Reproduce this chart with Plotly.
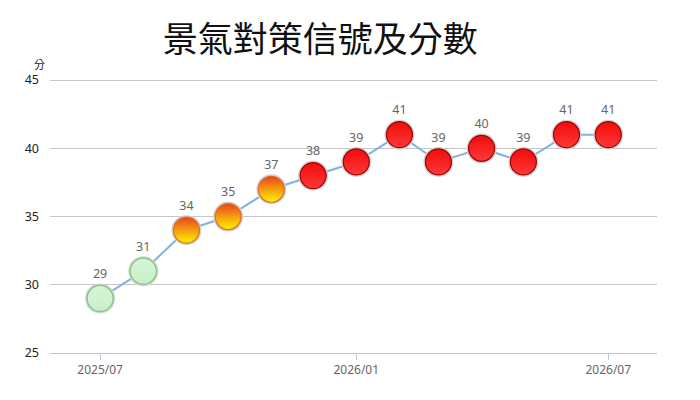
import plotly.graph_objects as go

# 景氣對策信號 monthly scores
months = ["2025-07-01", "2025-08-01", "2025-09-01", "2025-10-01", "2025-11-01",
          "2025-12-01", "2026-01-01", "2026-02-01", "2026-03-01", "2026-04-01",
          "2026-05-01", "2026-06-01", "2026-07-01"]
scores = [29, 31, 34, 35, 37, 38, 39, 41, 39, 40, 39, 41, 41]
signals = ["green", "green", "yellow-red", "yellow-red", "yellow-red",
           "red", "red", "red", "red", "red", "red", "red", "red"]

# signal light styles: (top colour, bottom colour, border)
styles = {
    "green": ("#d6f5d6", "#c9f0c9", "#80c480"),
    "yellow-red": ("#e8441c", "#fff500", "#e06a2a"),
    "red": ("#f00c0c", "#ff3838", "#a00000"),
}

fig = go.Figure()

# connecting line
fig.add_trace(go.Scatter(
    x=months, y=scores,
    mode="lines",
    line=dict(color="#7fb2e5", width=2),
    hoverinfo="skip",
    showlegend=False
))

# gray halo under each light
fig.add_trace(go.Scatter(
    x=months, y=scores,
    mode="markers",
    marker=dict(size=30, color="#d2d2d2", line=dict(width=0)),
    hoverinfo="skip",
    showlegend=False
))

# one trace per signal colour so each gets its own gradient
for sig in ["green", "yellow-red", "red"]:
    xs = [m for m, s in zip(months, signals) if s == sig]
    ys = [v for v, s in zip(scores, signals) if s == sig]
    top, bottom, border = styles[sig]
    fig.add_trace(go.Scatter(
        x=xs, y=ys,
        mode="markers+text",
        text=[str(v) for v in ys],
        textposition="top center",
        textfont=dict(family="Noto Sans", size=12.5, color="#666666"),
        marker=dict(size=26, color=top,
                    gradient=dict(type="vertical", color=bottom),
                    line=dict(color=border, width=1.2)),
        name=sig,
        showlegend=False
    ))

fig.update_layout(
    width=700, height=400,
    margin=dict(l=42, r=51, t=68, b=55),
    paper_bgcolor="white",
    plot_bgcolor="white",
    font=dict(family="Noto Sans CJK TC", color="#333333"),
    title=dict(
        text="景氣對策信號及分數",
        x=0.446, xanchor="center",
        y=0.92, yanchor="middle",
        font=dict(family="Noto Sans CJK TC", size=35, color="#111111")
    ),
    xaxis=dict(
        type="date",
        range=["2025-05-26", "2026-08-05"],
        tickvals=["2025-07-01", "2026-01-01", "2026-07-01"],
        ticktext=["2025/07", "2026/01", "2026/07"],
        showgrid=False,
        showline=True, linecolor="#b8c8dc", linewidth=1,
        ticks="outside", ticklen=6, tickcolor="#b8c8dc",
        tickfont=dict(family="Noto Sans", size=12, color="#666666"),
        zeroline=False, automargin=False
    ),
    yaxis=dict(
        range=[25, 45.3],
        tickvals=[25, 30, 35, 40, 45],
        showgrid=True, gridcolor="#c6c6c6", gridwidth=1,
        showline=False, zeroline=False,
        ticks="", ticklabelstandoff=10,
        tickfont=dict(family="Noto Sans", size=12.5, color="#222222"),
        automargin=False
    ),
    annotations=[dict(
        text="分", xref="paper", yref="paper",
        x=-0.005, y=1.0, yshift=12,
        xanchor="right", yanchor="middle", showarrow=False,
        font=dict(family="Noto Sans CJK TC", size=11, color="#222222")
    )]
)

fig.write_html("out.html")
